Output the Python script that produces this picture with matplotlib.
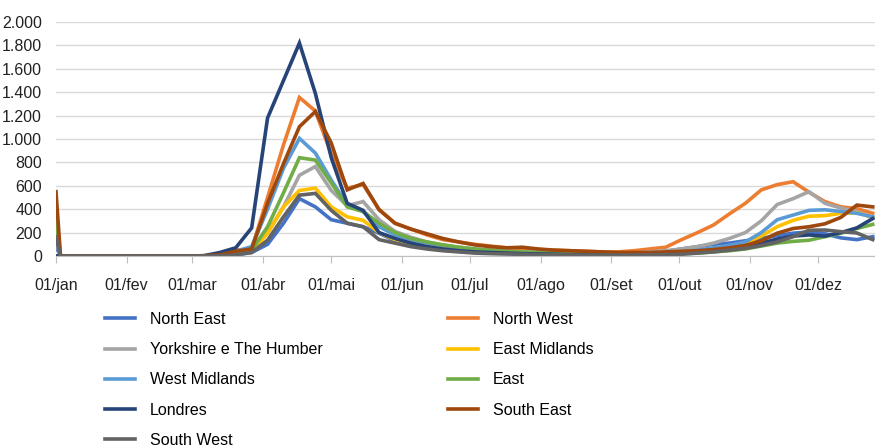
import numpy as np
import pandas as pd
import matplotlib
matplotlib.use("Agg")
import matplotlib.pyplot as plt
from matplotlib.ticker import FuncFormatter

plt.rcParams['font.family'] = ['Liberation Sans Narrow', 'Liberation Sans', 'DejaVu Sans']

# first point is 01/jan, then weekly (Fridays) from 03/jan to 25/dez
dates = [pd.Timestamp("2020-01-01")] + list(pd.date_range("2020-01-03", "2020-12-25", freq="7D"))

month_labels = ["01/jan", "01/fev", "01/mar", "01/abr", "01/mai", "01/jun",
                "01/jul", "01/ago", "01/set", "01/out", "01/nov", "01/dez"]

# weekly deaths per region (jan1 value, then 52 weeks)
north_east = [80, 0, 0, 0, 0, 0, 0, 0, 0, 0, 0, 2, 10, 30, 100, 280, 490, 420, 310, 280, 250,
              195, 130, 100, 75, 55, 40, 30, 25, 20, 15, 12, 10, 10, 8, 8, 10, 15, 25, 40, 60,
              80, 100, 110, 130, 150, 175, 195, 205, 190, 155, 140, 165]
north_west = [0, 0, 0, 0, 0, 0, 0, 0, 0, 0, 3, 15, 50, 60, 500, 950, 1355, 1240, 870, 580, 610,
              400, 280, 230, 180, 140, 120, 100, 85, 70, 65, 55, 50, 45, 40, 35, 35, 45, 60, 75, 140,
              200, 265, 360, 450, 565, 610, 635, 545, 465, 420, 405, 365]
yorkshire = [120, 0, 0, 0, 0, 0, 0, 0, 0, 0, 0, 3, 15, 40, 200, 420, 690, 765, 560, 430, 465,
             310, 210, 160, 120, 95, 75, 60, 50, 40, 35, 30, 25, 22, 20, 18, 20, 25, 35, 45, 60,
             80, 110, 150, 200, 300, 440, 490, 550, 450, 410, 380, 325]
east_midlands = [280, 0, 0, 0, 0, 0, 0, 0, 0, 0, 0, 3, 15, 40, 195, 420, 560, 580, 420, 335, 305,
                 200, 140, 110, 85, 65, 50, 40, 35, 30, 25, 20, 18, 15, 15, 12, 12, 15, 18, 22, 30,
                 45, 60, 80, 110, 170, 250, 305, 340, 345, 365, 370, 330]
west_midlands = [150, 0, 0, 0, 0, 0, 0, 0, 0, 0, 0, 10, 40, 80, 400, 750, 1005, 880, 650, 435, 380,
                 250, 180, 140, 110, 90, 70, 55, 45, 35, 30, 25, 22, 20, 18, 15, 15, 15, 20, 25, 35,
                 50, 70, 90, 120, 200, 310, 350, 390, 395, 380, 365, 335]
east = [325, 0, 0, 0, 0, 0, 0, 0, 0, 0, 0, 5, 30, 50, 250, 540, 840, 820, 625, 420, 380,
        280, 200, 150, 120, 95, 75, 60, 50, 40, 35, 30, 25, 22, 20, 18, 15, 15, 15, 18, 20,
        25, 35, 45, 60, 85, 110, 125, 135, 165, 195, 235, 270]
londres = [0, 0, 0, 0, 0, 0, 0, 0, 0, 0, 2, 30, 70, 240, 1180, 1500, 1820, 1390, 840, 450, 390,
           200, 150, 110, 80, 60, 45, 35, 30, 25, 20, 18, 15, 12, 12, 10, 10, 12, 15, 20, 25,
           35, 45, 60, 80, 110, 145, 170, 180, 170, 200, 240, 320]
south_east = [550, 0, 0, 0, 0, 0, 0, 0, 0, 0, 2, 10, 40, 60, 450, 790, 1105, 1235, 965, 565, 620,
              395, 280, 230, 190, 150, 120, 95, 80, 70, 75, 60, 50, 45, 40, 35, 30, 30, 30, 35, 40,
              45, 55, 70, 90, 130, 195, 235, 250, 275, 330, 435, 420]
south_west = [165, 0, 0, 0, 0, 0, 0, 0, 0, 0, 0, 2, 10, 30, 135, 335, 520, 535, 390, 280, 250,
              140, 110, 80, 60, 45, 35, 25, 20, 18, 15, 12, 10, 10, 8, 8, 8, 8, 10, 12, 15,
              25, 35, 50, 65, 90, 120, 165, 220, 222, 208, 197, 140]

series = [
    ("North East", north_east, "#4472C4"),
    ("North West", north_west, "#ED7D31"),
    ("Yorkshire e The Humber", yorkshire, "#A5A5A5"),
    ("East Midlands", east_midlands, "#FFC000"),
    ("West Midlands", west_midlands, "#5B9BD5"),
    ("East", east, "#70AD47"),
    ("Londres", londres, "#264478"),
    ("South East", south_east, "#9E480E"),
    ("South West", south_west, "#636363"),
]

fs = 11.5

fig = plt.figure(figsize=(8.75, 4.47), dpi=100)
ax = fig.add_axes([56 / 875, 1 - 256 / 447, 1 - 56 / 875, (256 - 22) / 447])

handles = {}
for name, vals, col in series:
    ln, = ax.plot(dates, vals, color=col, lw=2.6, solid_joinstyle="miter", label=name)
    handles[name] = ln

ax.set_ylim(0, 2000)
ax.set_yticks(np.arange(0, 2001, 200))
ax.yaxis.set_major_formatter(FuncFormatter(lambda v, p: f"{v:,.0f}".replace(",", ".")))
ax.set_xlim(pd.Timestamp("2020-01-01"), pd.Timestamp("2020-12-26"))
month_starts = pd.date_range("2020-01-01", "2020-12-01", freq="MS")
ax.set_xticks(month_starts)
ax.set_xticklabels(month_labels)

ax.yaxis.grid(True, color="#d9d9d9", lw=1)
ax.set_axisbelow(True)
for s in ["top", "right", "left"]:
    ax.spines[s].set_visible(False)
ax.spines["bottom"].set_color("#bfbfbf")
ax.tick_params(axis="y", length=0, pad=10, labelsize=fs, colors="#222222")
ax.tick_params(axis="x", length=5, color="#bfbfbf", pad=11, labelsize=fs, labelcolor="#222222")

order = ["North East", "Yorkshire e The Humber", "West Midlands", "Londres", "South West",
         "North West", "East Midlands", "East", "South East"]
fig.legend([handles[n] for n in order], order, loc="upper left",
           bbox_to_anchor=(105 / 875, 1 - 312 / 447), ncol=2, frameon=False,
           borderpad=0, borderaxespad=0, fontsize=fs, handlelength=1.9,
           handletextpad=0.9, columnspacing=7.85, labelspacing=0.95)

fig.savefig("out.png", dpi=100)
